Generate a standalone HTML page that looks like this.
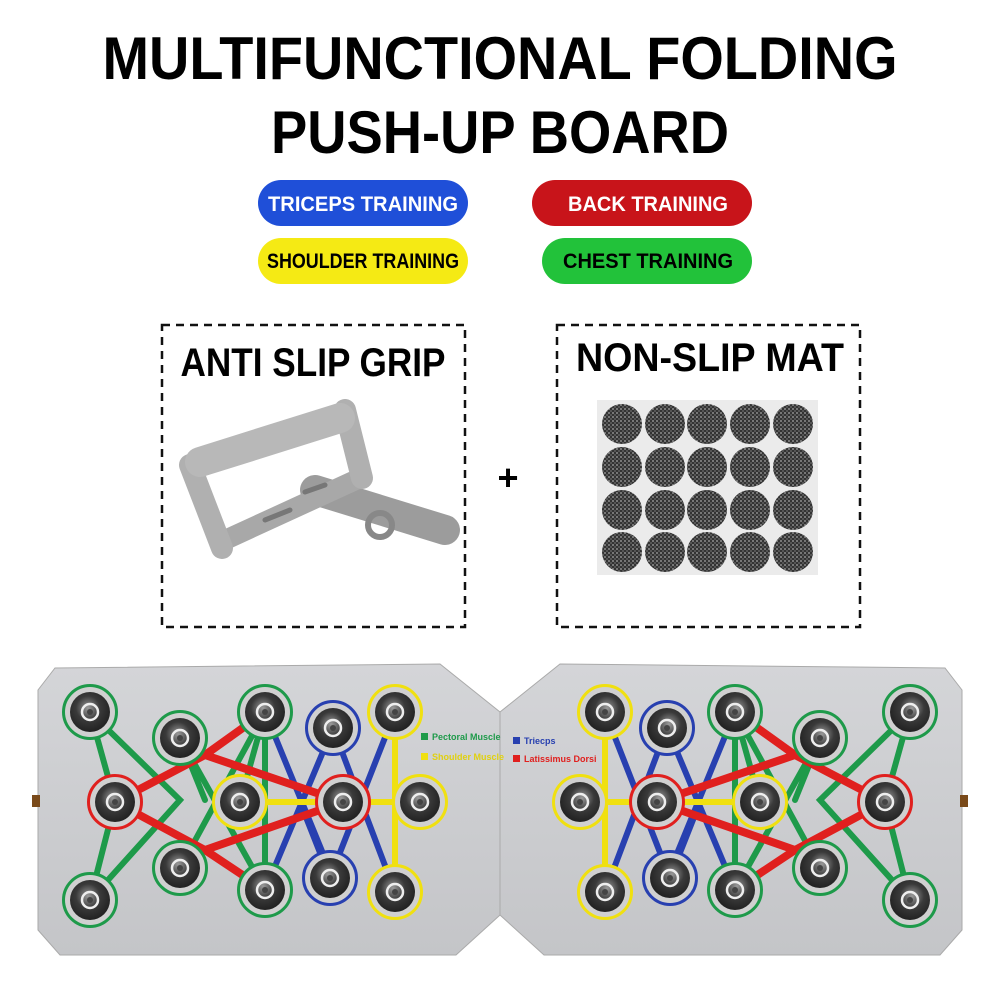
<!DOCTYPE html>
<html><head><meta charset="utf-8"><style>
body{margin:0;width:1000px;height:1000px;background:#fff;overflow:hidden;font-family:"Liberation Sans",sans-serif}
</style></head><body>
<svg width="1000" height="1000" viewBox="0 0 1000 1000" xmlns="http://www.w3.org/2000/svg">
<defs>
<radialGradient id="cup" cx="0.45" cy="0.4" r="0.6">
<stop offset="0" stop-color="#9a9a9a"/><stop offset="0.5" stop-color="#3a3a3a"/><stop offset="1" stop-color="#222"/>
</radialGradient>
<pattern id="carb" width="4" height="4" patternUnits="userSpaceOnUse">
<rect width="4" height="4" fill="#333"/><rect width="2" height="2" fill="#777"/><rect x="2" y="2" width="2" height="2" fill="#555"/>
</pattern>
<linearGradient id="bd" x1="0" y1="0" x2="0" y2="1"><stop offset="0" stop-color="#d4d5d8"/><stop offset="1" stop-color="#c4c5c8"/></linearGradient>
<g id="node"><circle r="25" fill="#d0d0d0"/><circle r="20" fill="url(#cup)"/><circle r="8" fill="none" stroke="#eee" stroke-width="2.5"/><circle r="3" fill="#444"/></g>
<g id="half">
<polygon points="55,668 440,664 500,712 500,915 456,955 60,955 38,930 38,690" fill="url(#bd)" stroke="#aaa"/>
<rect x="32" y="795" width="8" height="12" fill="#7a4a1a"/>
<g stroke-width="6" fill="none" stroke-linecap="round">
<path d="M90,712 L180,800 L90,900 M90,712 L115,802 L90,900 M180,738 L265,890 M265,712 L180,868 M180,738 L205,800 M265,712 L265,890 M265,712 L240,802" stroke="#1e9a4a"/>
<path d="M265,712 L333,878 M333,728 L265,890 M333,728 L395,892 M395,712 L330,878 M330,878 L300,802" stroke="#2840b0"/>
<path d="M395,712 L395,892 M240,802 L420,802" stroke="#f0e010"/>
<path d="M115,802 L205,755 L265,712 M205,755 L343,802 M115,802 L205,850 L265,890 M205,850 L343,802" stroke="#e0201e" stroke-width="8"/>
</g>
<g stroke-width="4" fill="none">
<circle cx="90" cy="712" r="26" stroke="#1e9a4a"/><circle cx="180" cy="738" r="26" stroke="#1e9a4a"/><circle cx="265" cy="712" r="26" stroke="#1e9a4a"/>
<circle cx="333" cy="728" r="26" stroke="#2840b0"/><circle cx="395" cy="712" r="26" stroke="#f0e010"/>
<circle cx="115" cy="802" r="26" stroke="#e0201e"/><circle cx="240" cy="802" r="26" stroke="#f0e010"/><circle cx="343" cy="802" r="26" stroke="#e0201e"/><circle cx="420" cy="802" r="26" stroke="#f0e010"/>
<circle cx="180" cy="868" r="26" stroke="#1e9a4a"/><circle cx="265" cy="890" r="26" stroke="#1e9a4a"/><circle cx="330" cy="878" r="26" stroke="#2840b0"/><circle cx="395" cy="892" r="26" stroke="#f0e010"/><circle cx="90" cy="900" r="26" stroke="#1e9a4a"/>
</g>
<use href="#node" x="90" y="712"/><use href="#node" x="180" y="738"/><use href="#node" x="265" y="712"/><use href="#node" x="333" y="728"/><use href="#node" x="395" y="712"/>
<use href="#node" x="115" y="802"/><use href="#node" x="240" y="802"/><use href="#node" x="343" y="802"/><use href="#node" x="420" y="802"/>
<use href="#node" x="180" y="868"/><use href="#node" x="265" y="890"/><use href="#node" x="330" y="878"/><use href="#node" x="395" y="892"/><use href="#node" x="90" y="900"/>
</g>
</defs>
<g font-weight="bold" text-anchor="middle" fill="#000">
<text x="500" y="79" font-size="60" textLength="795" lengthAdjust="spacingAndGlyphs">MULTIFUNCTIONAL FOLDING</text>
<text x="500" y="153" font-size="60" textLength="458" lengthAdjust="spacingAndGlyphs">PUSH-UP BOARD</text>
</g>
<g font-weight="bold" text-anchor="middle" font-size="21">
<rect x="258" y="180" width="210" height="46" rx="23" fill="#1f4fd8"/><text x="363" y="211" fill="#fff" textLength="190" lengthAdjust="spacingAndGlyphs">TRICEPS TRAINING</text>
<rect x="532" y="180" width="220" height="46" rx="23" fill="#c8141a"/><text x="648" y="211" fill="#fff" textLength="160" lengthAdjust="spacingAndGlyphs">BACK TRAINING</text>
<rect x="258" y="238" width="210" height="46" rx="23" fill="#f5ea14"/><text x="363" y="268" fill="#000" textLength="192" lengthAdjust="spacingAndGlyphs">SHOULDER TRAINING</text>
<rect x="542" y="238" width="210" height="46" rx="23" fill="#22c23a"/><text x="648" y="268" fill="#000" textLength="170" lengthAdjust="spacingAndGlyphs">CHEST TRAINING</text>
</g>
<rect x="162" y="325" width="303" height="302" fill="none" stroke="#111" stroke-width="2.5" stroke-dasharray="8,6"/>
<rect x="557" y="325" width="303" height="302" fill="none" stroke="#111" stroke-width="2.5" stroke-dasharray="8,6"/>
<g font-weight="bold" text-anchor="middle" font-size="40">
<text x="313" y="376" textLength="265" lengthAdjust="spacingAndGlyphs">ANTI SLIP GRIP</text>
<text x="710" y="371" textLength="268" lengthAdjust="spacingAndGlyphs">NON-SLIP MAT</text>
</g>
<text x="508" y="490" font-size="36" font-weight="bold" text-anchor="middle">+</text>
<g stroke-linecap="round" fill="none">
<path d="M315,490 L445,530" stroke="#9c9c9c" stroke-width="30"/>
<path d="M225,540 L360,478" stroke="#a8a8a8" stroke-width="20"/>
<path d="M190,465 L222,548" stroke="#b0b0b0" stroke-width="22"/>
<path d="M345,410 L362,478" stroke="#b0b0b0" stroke-width="22"/>
<path d="M200,462 L340,418" stroke="#b8b8b8" stroke-width="30"/>
<circle cx="380" cy="525" r="12" stroke="#888" stroke-width="6"/>
<path d="M265,520 L290,510 M305,492 L325,485" stroke="#777" stroke-width="5"/>
</g>
<rect x="597" y="400" width="221" height="175" fill="#ebebeb"/>
<g fill="url(#carb)">
<circle cx="622" cy="424" r="20"/><circle cx="665" cy="424" r="20"/><circle cx="707" cy="424" r="20"/><circle cx="750" cy="424" r="20"/><circle cx="793" cy="424" r="20"/>
<circle cx="622" cy="467" r="20"/><circle cx="665" cy="467" r="20"/><circle cx="707" cy="467" r="20"/><circle cx="750" cy="467" r="20"/><circle cx="793" cy="467" r="20"/>
<circle cx="622" cy="510" r="20"/><circle cx="665" cy="510" r="20"/><circle cx="707" cy="510" r="20"/><circle cx="750" cy="510" r="20"/><circle cx="793" cy="510" r="20"/>
<circle cx="622" cy="552" r="20"/><circle cx="665" cy="552" r="20"/><circle cx="707" cy="552" r="20"/><circle cx="750" cy="552" r="20"/><circle cx="793" cy="552" r="20"/>
</g>
<use href="#half"/>
<use href="#half" transform="translate(1000,0) scale(-1,1)"/>
<g font-size="9" font-weight="bold">
<rect x="421" y="733" width="7" height="7" fill="#1e9a4a"/><text x="432" y="740" fill="#1e9a4a">Pectoral Muscle</text>
<rect x="421" y="753" width="7" height="7" fill="#f0e010"/><text x="432" y="760" fill="#e0d010">Shoulder Muscle</text>
<rect x="513" y="737" width="7" height="7" fill="#2840b0"/><text x="524" y="744" fill="#2840b0">Triecps</text>
<rect x="513" y="755" width="7" height="7" fill="#e0201e"/><text x="524" y="762" fill="#e0201e">Latissimus Dorsi</text>
</g>
</svg>
</body></html>
